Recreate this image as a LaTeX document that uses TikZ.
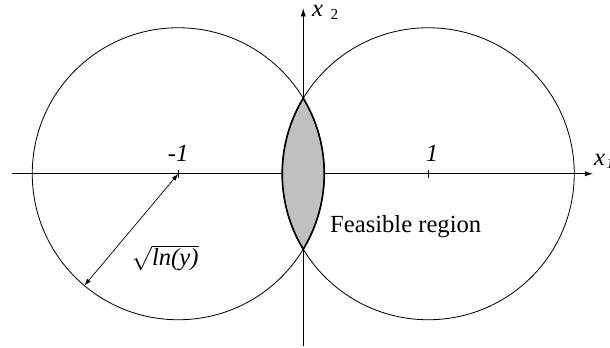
\documentclass[tikz,border=0pt]{standalone}
\usepackage{fontspec}
\setmainfont{Liberation Serif}
\usetikzlibrary{arrows.meta}

\definecolor{lensgray}{RGB}{192,192,192}

\tikzset{
  curve/.style={line width=0.7pt},
  axis/.style={line width=0.7pt, -{Latex[length=7pt, width=4.5pt]}},
  radarrow/.style={line width=0.6pt, {Latex[length=6pt, width=4pt]}-{Latex[length=6pt, width=4pt]}},
  lbl/.style={font=\fontsize{21}{24}\selectfont, inner sep=0pt, anchor=base west},
}
\newcommand{\subidx}[2][0.3em]{\hspace{#1}\raisebox{-0.09cm}{\fontsize{13}{15}\selectfont #2}}

\begin{document}
\begin{tikzpicture}[x=3.75cm, y=3.75cm]
        \def\rad{1.168}
        \useasboundingbox (-2.426,-1.386) rectangle (2.454,1.390);

        % circle centres and axis ends
        \coordinate (cl) at (-1,0);
        \coordinate (cr) at (1,0);
        \coordinate (xa) at (-2.33,0);
        \coordinate (xb) at (2.318,0);
        \coordinate (ya) at (0,-1.378);
        \coordinate (yb) at (0,1.324);

        % axes
        \draw[axis] (xa) -- (xb);
        \draw[axis] (ya) -- (yb);
        % ticks at -1 and 1
        \draw[curve] (cl) ++(0,0.03) -- ++(0,-0.06);
        \draw[curve] (cr) ++(0,0.03) -- ++(0,-0.06);
        \node[lbl, anchor=base] (mone) at (-1.0,0.097) {\textit{-1}};
        \node[lbl, anchor=base] (pone) at (1.03,0.097) {\textit{1}};
        \node[lbl] (xone) at (2.325,0.07) {\textit{x}\subidx[0.05em]{\textit{1}}};
        \node[lbl] (xtwo) at (0.07,1.262) {\textit{x}\subidx{2}};

        % feasible region = intersection of both discs
        \begin{scope}
          \clip (cl) circle (\rad);
          \fill[lensgray] (cr) circle (\rad);
          \draw[line width=1.4pt] (cr) circle (\rad);
        \end{scope}
        \begin{scope}
          \clip (cr) circle (\rad);
          \draw[line width=1.4pt] (cl) circle (\rad);
        \end{scope}

        % the two circles
        \draw[curve] (cl) circle (\rad);
        \draw[curve] (cr) circle (\rad);

        % radius
        \path (cl) ++(230:\rad) coordinate (rim);
        \draw[radarrow] (rim) -- (cl);
        \node[lbl] (radlbl) at (-1.373,-0.730) {$\sqrt{\textit{ln(y)}}$};

        \node[lbl] (feas) at (0.214,-0.468) {Feasible region};
\end{tikzpicture}
\end{document}
